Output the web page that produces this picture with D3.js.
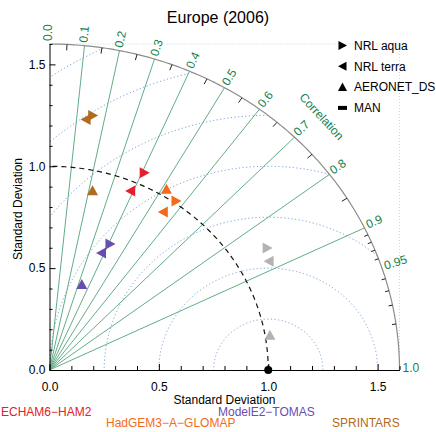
<!DOCTYPE html>
<html>
<head>
<meta charset="utf-8">
<script src="https://cdn.jsdelivr.net/npm/d3@7"></script>
<style>
  body { margin: 0; background: #fff; }
  svg { font-family: "Liberation Sans", Arial, sans-serif; display: block; }
</style>
</head>
<body>
<div id="taylor"></div>
<script>
// data
var models = ["ECHAM6-HAM2", "HadGEM3-A-GLOMAP", "ModelE2-TOMAS", "SPRINTARS", "reference"];
var obsNames = ["NRL aqua", "NRL terra", "AERONET_DS", "MAN"];

// one entry per plotted marker: model, observation, std dev, correlation
var pointModel = ["ECHAM6-HAM2", "ECHAM6-HAM2",
                  "HadGEM3-A-GLOMAP", "HadGEM3-A-GLOMAP", "HadGEM3-A-GLOMAP",
                  "ModelE2-TOMAS", "ModelE2-TOMAS", "ModelE2-TOMAS",
                  "SPRINTARS", "SPRINTARS", "SPRINTARS",
                  "reference", "reference", "reference"];
var pointObs = ["NRL aqua", "NRL terra",
                "AERONET_DS", "NRL aqua", "NRL terra",
                "NRL aqua", "NRL terra", "AERONET_DS",
                "NRL aqua", "NRL terra", "AERONET_DS",
                "NRL aqua", "NRL terra", "AERONET_DS"];
var pointStd = [1.061, 0.954,
                1.036, 1.011, 0.934,
                0.677, 0.621, 0.445,
                1.265, 1.241, 0.902,
                1.161, 1.137, 1.022];
var pointCorr = [0.408, 0.389,
                 0.516, 0.572, 0.557,
                 0.408, 0.383, 0.332,
                 0.156, 0.135, 0.218,
                 0.857, 0.883, 0.986];

var corrLines = [0.1, 0.2, 0.3, 0.4, 0.5, 0.6, 0.7, 0.8, 0.9];
var corrLabels = ["0.0", "0.1", "0.2", "0.3", "0.4", "0.5", "0.6", "0.7", "0.8", "0.9", "0.95", "1.0"];
var corrMinor = [0.05, 0.15, 0.25, 0.35, 0.45, 0.55, 0.65, 0.75, 0.85,
                 0.91, 0.92, 0.93, 0.94, 0.96, 0.97, 0.98, 0.99];
var rmsLevels = [0.25, 0.5, 0.75, 1.0, 1.25, 1.5, 1.75];
var sdTicks = [0, 0.5, 1.0, 1.5];
var sdMinor = [0.1, 0.2, 0.3, 0.4, 0.6, 0.7, 0.8, 0.9, 1.1, 1.2, 1.3, 1.4, 1.6];

// styles
var modelColors = {"ECHAM6-HAM2": "#e3202b", "HadGEM3-A-GLOMAP": "#f26a1b",
                   "ModelE2-TOMAS": "#6a4db0", "SPRINTARS": "#b26a1e", "reference": "#b3b3b3"};
var shapes = {
  "NRL aqua":   "M-4.5,-5.5L5.5,0L-4.5,5.5Z",
  "NRL terra":  "M4.5,-5.5L-5.5,0L4.5,5.5Z",
  "AERONET_DS": "M-5.5,4.5L0,-5.5L5.5,4.5Z",
  "MAN":        "M-5,-2H5V2H-5Z"
};
var legendShapes = {
  "NRL aqua":   "M-4,-4.5L4.5,0L-4,4.5Z",
  "NRL terra":  "M4,-4.5L-4.5,0L4,4.5Z",
  "AERONET_DS": "M-4.5,4L0,-4.5L4.5,4Z",
  "MAN":        "M-4.5,-2H4.5V2H-4.5Z"
};
var green = "#62ad88", greenText = "#17804a";

var W = 436, H = 432, rMax = 1.6;

var svg = d3.select("#taylor").append("svg")
    .attr("width", W)
    .attr("height", H);

var sx = d3.scaleLinear().domain([0, rMax]).range([49.5, 399.5]);
var sy = d3.scaleLinear().domain([0, rMax]).range([370, 44]);

var line = d3.line()
    .defined(function(d) { return d != null; })
    .x(function(d) { return sx(d[0]); })
    .y(function(d) { return sy(d[1]); });

function polar(r, c) { return [r * c, r * Math.sqrt(1 - c * c)]; }

function arcPts(r) {
  return d3.range(0, 90.01, 0.5).map(function(a) {
    var t = a * Math.PI / 180;
    return [r * Math.cos(t), r * Math.sin(t)];
  });
}

// light dotted frame
svg.append("path")
    .attr("d", line([[0, rMax], [rMax, rMax], [rMax, 0]]))
    .attr("fill", "none")
    .attr("stroke", "#c6d3e8")
    .attr("stroke-dasharray", "1,2");

// rms difference circles around the reference point
rmsLevels.forEach(function(rho) {
  var pts = d3.range(0, Math.PI + 0.001, 0.004).map(function(p) {
    var x = 1 + rho * Math.cos(p), y = rho * Math.sin(p);
    return (x >= 0 && x * x + y * y <= rMax * rMax) ? [x, y] : null;
  });
  svg.append("path")
      .attr("d", line(pts))
      .attr("fill", "none")
      .attr("stroke", "#6f9fdc")
      .attr("stroke-width", 1)
      .attr("stroke-dasharray", "1.2,2.4");
});

// correlation rays
svg.selectAll(".ray")
    .data(corrLines)
  .enter().append("path")
    .attr("class", "ray")
    .attr("d", function(c) { return line([[0, 0], polar(rMax, c)]); })
    .attr("stroke", green)
    .attr("stroke-width", 1);

// outer arc
svg.append("path")
    .attr("d", line(arcPts(rMax)))
    .attr("fill", "none")
    .attr("stroke", "#8c8c8c")
    .attr("stroke-width", 1.2);

// screen angle of a correlation value
function screenAngle(c) {
  var p = polar(1, c);
  var dx = sx(p[0]) - sx(0), dy = sy(0) - sy(p[1]);
  return Math.atan2(dy, dx);
}

// minor ticks on the arc, pointing inward
svg.selectAll(".ctick")
    .data(corrMinor)
  .enter().append("line")
    .attr("class", "ctick")
    .each(function(c) {
      var p = polar(rMax, c), a = screenAngle(c);
      var len = c > 0.9 ? 4 : 6;
      d3.select(this)
          .attr("x1", sx(p[0])).attr("y1", sy(p[1]))
          .attr("x2", sx(p[0]) - len * Math.cos(a))
          .attr("y2", sy(p[1]) + len * Math.sin(a));
    })
    .attr("stroke", "#222")
    .attr("stroke-width", 1);

// correlation labels
svg.selectAll(".clabel")
    .data(corrLabels)
  .enter().append("text")
    .attr("class", "clabel")
    .attr("transform", function(d) {
      var c = +d, p = polar(rMax, c), a = screenAngle(c);
      var x = sx(p[0]) + 3 * Math.cos(a), y = sy(p[1]) - 3 * Math.sin(a);
      return "translate(" + x + "," + y + ")rotate(" + (-a * 180 / Math.PI) + ")";
    })
    .attr("dy", "0.2em")
    .attr("fill", greenText)
    .style("font-size", "12px")
    .text(function(d) { return d; });

// "Correlation" label along the arc
(function() {
  var c = Math.cos(45 * Math.PI / 180), p = polar(1.76, c);
  svg.append("text")
      .attr("transform", "translate(" + sx(p[0]) + "," + sy(p[1]) + ")rotate(" + (90 - screenAngle(c) * 180 / Math.PI) + ")")
      .attr("text-anchor", "middle")
      .attr("dy", "0.35em")
      .attr("fill", greenText)
      .style("font-size", "12px")
      .text("Correlation");
})();

// reference std dev arc
svg.append("path")
    .attr("d", line(arcPts(1.0)))
    .attr("fill", "none")
    .attr("stroke", "#111")
    .attr("stroke-width", 1.2)
    .attr("stroke-dasharray", "5,4");

// axes
svg.append("g")
    .attr("transform", "translate(0," + sy(0) + ")")
    .call(d3.axisBottom(sx).tickValues(sdTicks).tickSize(-6).tickSizeOuter(0)
          .tickPadding(12).tickFormat(d3.format(".1f")));
svg.append("g")
    .attr("transform", "translate(0," + sy(0) + ")")
    .call(d3.axisBottom(sx).tickValues(sdMinor).tickSize(-4).tickSizeOuter(0).tickFormat(""))
    .select(".domain").remove();

svg.append("g")
    .attr("transform", "translate(" + sx(0) + ",0)")
    .call(d3.axisLeft(sy).tickValues(sdTicks).tickSize(-6).tickSizeOuter(0)
          .tickPadding(4).tickFormat(d3.format(".1f")));
svg.append("g")
    .attr("transform", "translate(" + sx(0) + ",0)")
    .call(d3.axisLeft(sy).tickValues(sdMinor).tickSize(-3).tickSizeOuter(0).tickFormat(""))
    .select(".domain").remove();

svg.selectAll(".tick text")
    .style("font-size", "12px")
    .style("font-family", "'Liberation Sans', Arial, sans-serif")
    .attr("fill", "#000");

// reference point
svg.append("circle")
    .attr("cx", sx(1))
    .attr("cy", sy(0))
    .attr("r", 4)
    .attr("fill", "#000");

// model points
svg.selectAll(".pt")
    .data(pointStd)
  .enter().append("path")
    .attr("class", "pt")
    .attr("transform", function(d, i) {
      var p = polar(d, pointCorr[i]);
      return "translate(" + sx(p[0]) + "," + sy(p[1]) + ")";
    })
    .attr("d", function(d, i) { return shapes[pointObs[i]]; })
    .attr("fill", function(d, i) { return modelColors[pointModel[i]]; });

// axis titles
svg.append("text")
    .attr("x", (sx(0) + sx(rMax)) / 2)
    .attr("y", 404)
    .attr("text-anchor", "middle")
    .style("font-size", "12px")
    .text("Standard Deviation");

svg.append("text")
    .attr("transform", "translate(22," + ((sy(0) + sy(rMax)) / 2 + 2) + ")rotate(-90)")
    .attr("text-anchor", "middle")
    .style("font-size", "12px")
    .text("Standard Deviation");

// title
svg.append("text")
    .attr("x", 218)
    .attr("y", 23)
    .attr("text-anchor", "middle")
    .style("font-size", "16px")
    .text("Europe (2006)");

// legend of observation types
var legend = svg.selectAll(".leg")
    .data(obsNames)
  .enter().append("g")
    .attr("class", "leg")
    .attr("transform", function(d, i) { return "translate(342.5," + (45.5 + i * 20.8) + ")"; });
legend.append("path")
    .attr("d", function(d) { return legendShapes[d]; })
    .attr("fill", "#000");
legend.append("text")
    .attr("x", 11.5)
    .attr("dy", "0.35em")
    .style("font-size", "12px")
    .text(function(d) { return d; });

// model names below the chart
var modelPos = [[1, 416], [106, 427], [218, 416], [332, 427]];
svg.selectAll(".mname")
    .data(models.slice(0, 4))
  .enter().append("text")
    .attr("class", "mname")
    .attr("x", function(d, i) { return modelPos[i][0]; })
    .attr("y", function(d, i) { return modelPos[i][1]; })
    .attr("fill", function(d) { return modelColors[d]; })
    .style("font-size", "12px")
    .text(function(d) { return d.replace(/-/g, "\u2212"); });
</script>
</body>
</html>
